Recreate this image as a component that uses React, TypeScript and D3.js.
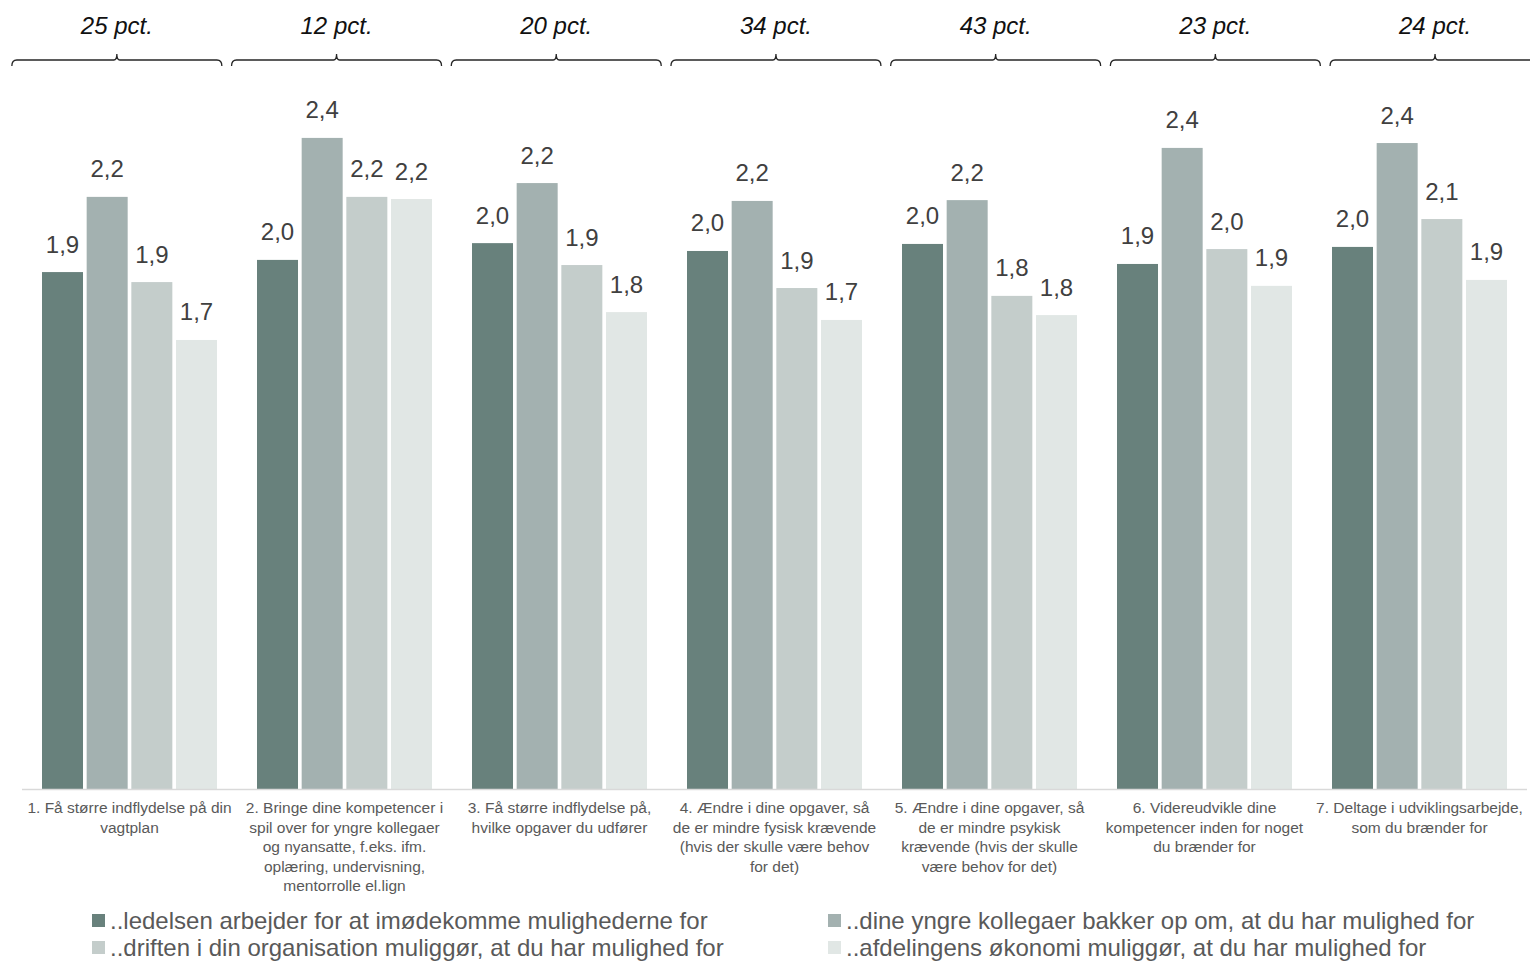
import React from "react";
import * as d3 from "d3";

const categoryLines: string[][] = [
  ["1. Få større indflydelse på din", "vagtplan"],
  ["2. Bringe dine kompetencer i", "spil over for yngre kollegaer", "og nyansatte, f.eks. ifm.", "oplæring, undervisning,", "mentorrolle el.lign"],
  ["3. Få større indflydelse på,", "hvilke opgaver du udfører"],
  ["4. Ændre i dine opgaver, så", "de er mindre fysisk krævende", "(hvis der skulle være behov", "for det)"],
  ["5. Ændre i dine opgaver, så", "de er mindre psykisk", "krævende (hvis der skulle", "være behov for det)"],
  ["6. Videreudvikle dine", "kompetencer inden for noget", "du brænder for"],
  ["7. Deltage i udviklingsarbejde,", "som du brænder for"],
];
const categories = categoryLines.map((l, i) => `c${i + 1}`);

const pctLabels = ["25 pct.", "12 pct.", "20 pct.", "34 pct.", "43 pct.", "23 pct.", "24 pct."];

const seriesNames = [
  "..ledelsen arbejder for at imødekomme mulighederne for",
  "..dine yngre kollegaer bakker op om, at du har mulighed for",
  "..driften i din organisation muliggør, at du har mulighed for",
  "..afdelingens økonomi muliggør, at du har mulighed for",
];
const seriesColors = ["#68817c", "#a3b1b0", "#c4cdcb", "#e1e7e5"];

const ledelsen = [1.911, 1.956, 2.018, 1.989, 2.015, 1.941, 2.004];
const kollegaer = [2.189, 2.407, 2.24, 2.174, 2.177, 2.37, 2.388];
const driften = [1.874, 2.189, 1.937, 1.852, 1.823, 1.996, 2.107];
const oekonomi = [1.66, 2.181, 1.763, 1.734, 1.752, 1.86, 1.882];
const seriesValues = [ledelsen, kollegaer, driften, oekonomi];

const FONT = "'Liberation Sans', Arial, sans-serif";

export default function App() {
  const W = 1530;
  const H = 962;
  const baseY = 789;
  const y = d3.scaleLinear().domain([0, 2.5]).range([baseY, baseY - 2.5 * 270.5]);
  const x0 = d3.scaleBand<string>().domain(categories).range([22, 1527]).paddingInner(0).paddingOuter(0);
  const x1 = d3
    .scaleBand<number>()
    .domain([0, 1, 2, 3])
    .range([20, x0.bandwidth() - 20])
    .paddingInner(0.082)
    .paddingOuter(0);
  const xb = d3.scaleBand<string>().domain(categories).range([7, 7 + 7 * 219.7]).paddingInner(9.7 / 219.7).paddingOuter(9.7 / 219.7 / 2);
  const fmt = d3.format(".1f");

  const bracketPath = (a: number, b: number) => {
    const c = (a + b) / 2;
    const t = 60;
    return `M${a},${t + 6} Q${a},${t} ${a + 5},${t} H${c - 3} Q${c},${t} ${c},${t - 6} Q${c},${t} ${c + 3},${t} H${b - 5} Q${b},${t} ${b},${t + 6}`;
  };

  const legendPos = [
    [92, 929],
    [828, 929],
    [92, 956],
    [828, 956],
  ];

  return (
    <svg
      width={W}
      height={H}
      style={{ position: "absolute", left: 0, top: 0, background: "#fff" }}
      fontFamily={FONT}
    >
      {/* brackets and pct labels */}
      {categories.map((c, i) => {
        const a = xb(c)!;
        const b = a + xb.bandwidth();
        return (
          <g key={"br" + c}>
            <path d={bracketPath(a, b)} fill="none" stroke="#262626" strokeWidth={1.3} />
            <text x={(a + b) / 2} y={34} textAnchor="middle" fontSize={24} fontStyle="italic" fill="#111">
              {pctLabels[i]}
            </text>
          </g>
        );
      })}

      {/* bars */}
      {categories.map((c, i) => (
        <g key={"g" + c} transform={`translate(${x0(c)},0)`}>
          {seriesValues.map((vals, s) => {
            const v = vals[i];
            const bx = x1(s)!;
            const by = y(v);
            return (
              <g key={s}>
                <rect x={bx} y={by} width={x1.bandwidth()} height={baseY - by} fill={seriesColors[s]} />
                <text
                  x={bx + x1.bandwidth() / 2}
                  y={by - 19.5}
                  textAnchor="middle"
                  fontSize={24}
                  fill="#404040"
                >
                  {fmt(v).replace(".", ",")}
                </text>
              </g>
            );
          })}
        </g>
      ))}

      {/* axis line */}
      <line x1={22} x2={1527} y1={baseY + 0.5} y2={baseY + 0.5} stroke="#d9d9d9" strokeWidth={1.5} />

      {/* category labels */}
      {categories.map((c, i) => (
        <text key={"cl" + c} textAnchor="middle" fontSize={15.5} fill="#595959">
          {categoryLines[i].map((ln, j) => (
            <tspan key={j} x={x0(c)! + x0.bandwidth() / 2} y={813 + j * 19.5}>
              {ln}
            </tspan>
          ))}
        </text>
      ))}

      {/* legend */}
      {seriesNames.map((n, s) => (
        <g key={"lg" + s}>
          <rect x={legendPos[s][0]} y={legendPos[s][1] - 15} width={13} height={13} fill={seriesColors[s]} />
          <text x={legendPos[s][0] + 18} y={legendPos[s][1]} fontSize={24} fill="#595959">
            {n}
          </text>
        </g>
      ))}
    </svg>
  );
}
